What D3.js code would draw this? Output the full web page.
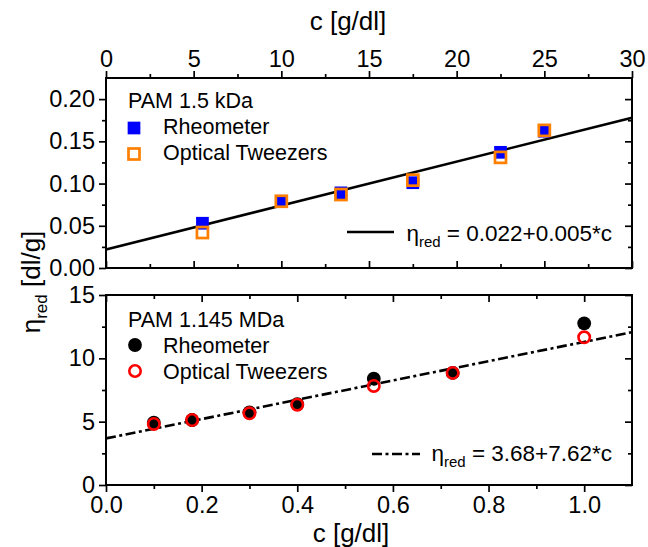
<!DOCTYPE html>
<html><head><meta charset="utf-8">
<script src="https://cdn.jsdelivr.net/npm/d3@7"></script>
<style>
body{margin:0;background:#fff;}
svg text{font-family:Arial,"Liberation Sans",sans-serif;fill:#000;}
</style></head>
<body><svg id="c" width="648" height="547"></svg>
<script>
// ---- data ----
const topC = [5.5, 10, 13.4, 17.5, 22.5, 25];
const topRheo = [0.053, 0.079, 0.089, 0.101, 0.137, 0.162];
const topOT = [0.042, 0.079, 0.087, 0.104, 0.131, 0.163];
const topFit = [0.022, 0.0052]; // intercept, slope
const topFitLabel = "= 0.022+0.005*c";

const botC = [0.1, 0.18, 0.3, 0.4, 0.56, 0.725, 1.0];
const botRheo = [4.92, 5.13, 5.74, 6.39, 8.39, 8.85, 12.76];
const botOT = [4.82, 5.13, 5.66, 6.34, 7.82, 8.85, 11.66];
const botFit = [3.68, 7.62];
const botFitLabel = "= 3.68+7.62*c";

const topXTicks = [0, 5, 10, 15, 20, 25, 30];
const topYTicks = [0, 0.05, 0.10, 0.15, 0.20];
const botXTicks = [0, 0.2, 0.4, 0.6, 0.8, 1.0];
const botYTicks = [0, 5, 10, 15];
const seriesNames = ["Rheometer", "Optical Tweezers"];
const panelTitles = ["PAM 1.5 kDa", "PAM 1.145 MDa"];

// ---- layout ----
const L = 106, R = 632;
const svg = d3.select("#c");
const xT = d3.scaleLinear([0, 30], [L, R]);
const yT = d3.scaleLinear([0, 0.225], [268, 78]);
const xB = d3.scaleLinear([0, 1.1], [L, R]);
const yB = d3.scaleLinear([0, 15], [485, 295]);

const TFS = 23.5, LFS = 21.5, EFS = 22.5, AFS = 26;
const DASH = "10,3.5,3,3.5";
function styleAxis(g, sw) {
  g.select(".domain").remove();
  g.selectAll(".tick line").attr("stroke", "#000").attr("stroke-width", sw);
  g.selectAll(".tick text").attr("font-size", TFS).attr("font-family", "Arial, 'Liberation Sans', sans-serif").attr("fill", "#000");
}
function minors(major, lo, hi) {
  const step = major[1] - major[0];
  const out = [];
  for (let i = 0; i < major.length; i++) {
    const v = major[i] + step / 2;
    if (v > lo && v < hi) out.push(v);
  }
  return out;
}
function addAxis(axisFn, scale, tr, majors, mins, fmt, labels) {
  const gM = svg.append("g").attr("transform", tr)
    .call(axisFn(scale).tickValues(majors).tickSize(7).tickPadding(4)
      .tickFormat(labels ? fmt : () => ""));
  styleAxis(gM, 1.7);
  const gm = svg.append("g").attr("transform", tr)
    .call(axisFn(scale).tickValues(mins).tickSize(4).tickFormat(() => ""));
  styleAxis(gm, 1.7);
  return gM;
}
const f2 = d3.format(".2f"), f1 = d3.format(".1f"), f0 = d3.format("d");

// top panel axes
addAxis(d3.axisTop, xT, `translate(0,78)`, topXTicks, minors(topXTicks, 0, 30), f0, true);
addAxis(d3.axisTop, xT, `translate(0,268)`, topXTicks, minors(topXTicks, 0, 30), f0, false);
addAxis(d3.axisLeft, yT, `translate(${L},0)`, topYTicks, minors(topYTicks, 0, 0.225), f2, true);
addAxis(d3.axisLeft, yT, `translate(${R},0)`, topYTicks, minors(topYTicks, 0, 0.225), f2, false);
// bottom panel axes
addAxis(d3.axisBottom, xB, `translate(0,485)`, botXTicks, minors(botXTicks, 0, 1.1), f1, true);
addAxis(d3.axisBottom, xB, `translate(0,295)`, botXTicks, minors(botXTicks, 0, 1.1), f1, false);
addAxis(d3.axisLeft, yB, `translate(${L},0)`, botYTicks, minors(botYTicks, 0, 15), f0, true);
addAxis(d3.axisLeft, yB, `translate(${R},0)`, botYTicks, minors(botYTicks, 0, 15), f0, false);

// frames
svg.append("rect").attr("x", L).attr("y", 78).attr("width", R - L).attr("height", 190)
  .attr("fill", "none").attr("stroke", "#000").attr("stroke-width", 2);
svg.append("rect").attr("x", L).attr("y", 295).attr("width", R - L).attr("height", 190)
  .attr("fill", "none").attr("stroke", "#000").attr("stroke-width", 2);

// axis titles
svg.append("text").attr("x", 348).attr("y", 30).attr("text-anchor", "middle").attr("font-size", AFS).text("c [g/dl]");
svg.append("text").attr("x", 351).attr("y", 542).attr("text-anchor", "middle").attr("font-size", AFS).text("c [g/dl]");
const yl = svg.append("text").attr("transform", "translate(40,282) rotate(-90)").attr("text-anchor", "middle").attr("font-size", AFS);
yl.append("tspan").text("η");
yl.append("tspan").attr("font-size", 17).attr("dy", 7).text("red");
yl.append("tspan").attr("dy", -7).text(" [dl/g]");

// fit lines
const line = d3.line();
svg.append("path").attr("d", line([[xT(0), yT(topFit[0])], [xT(30), yT(topFit[0] + topFit[1] * 30)]]))
  .attr("stroke", "#000").attr("stroke-width", 2.6).attr("fill", "none");
svg.append("path").attr("d", line([[xB(0), yB(botFit[0])], [xB(1.1), yB(botFit[0] + botFit[1] * 1.1)]]))
  .attr("stroke", "#000").attr("stroke-width", 2.6).attr("fill", "none").attr("stroke-dasharray", DASH);

// markers top
const sq = 12.7, osq = 11;
svg.append("g").selectAll("rect").data(topC.map((c, i) => [c, topRheo[i]])).join("rect")
  .attr("x", d => xT(d[0]) - sq / 2).attr("y", d => yT(d[1]) - sq / 2)
  .attr("width", sq).attr("height", sq).attr("fill", "#0000ff");
svg.append("g").selectAll("rect").data(topC.map((c, i) => [c, topOT[i]])).join("rect")
  .attr("x", d => xT(d[0]) - osq / 2).attr("y", d => yT(d[1]) - osq / 2)
  .attr("width", osq).attr("height", osq).attr("fill", "none").attr("stroke", "#ff8000").attr("stroke-width", 2.7);
// markers bottom
svg.append("g").selectAll("circle").data(botC.map((c, i) => [c, botRheo[i]])).join("circle")
  .attr("cx", d => xB(d[0])).attr("cy", d => yB(d[1])).attr("r", 6.9).attr("fill", "#000");
svg.append("g").selectAll("circle").data(botC.map((c, i) => [c, botOT[i]])).join("circle")
  .attr("cx", d => xB(d[0])).attr("cy", d => yB(d[1])).attr("r", 5.7)
  .attr("fill", "none").attr("stroke", "#ff0000").attr("stroke-width", 2.6);

// legends top
svg.append("text").attr("x", 128).attr("y", 108).attr("font-size", LFS).text(panelTitles[0]);
svg.append("rect").attr("x", 134 - sq / 2).attr("y", 128 - sq / 2).attr("width", sq).attr("height", sq).attr("fill", "#0000ff");
svg.append("text").attr("x", 163).attr("y", 134).attr("font-size", LFS).text(seriesNames[0]);
svg.append("rect").attr("x", 134 - osq / 2).attr("y", 154 - osq / 2).attr("width", osq).attr("height", osq)
  .attr("fill", "none").attr("stroke", "#ff8000").attr("stroke-width", 2.7);
svg.append("text").attr("x", 163).attr("y", 160).attr("font-size", LFS).text(seriesNames[1]);
// legends bottom
svg.append("text").attr("x", 128).attr("y", 327).attr("font-size", LFS).text(panelTitles[1]);
svg.append("circle").attr("cx", 135).attr("cy", 345).attr("r", 6.9).attr("fill", "#000");
svg.append("text").attr("x", 163).attr("y", 353).attr("font-size", LFS).text(seriesNames[0]);
svg.append("circle").attr("cx", 135).attr("cy", 371).attr("r", 5.7).attr("fill", "none").attr("stroke", "#ff0000").attr("stroke-width", 2.6);
svg.append("text").attr("x", 163).attr("y", 379).attr("font-size", LFS).text(seriesNames[1]);

// equation legends
function eq(x1, x2, ly, ty, label, dash) {
  const p = svg.append("line").attr("x1", x1).attr("x2", x2).attr("y1", ly).attr("y2", ly)
    .attr("stroke", "#000").attr("stroke-width", 2.6);
  if (dash) p.attr("stroke-dasharray", dash);
  const t = svg.append("text").attr("x", 612).attr("y", ty).attr("text-anchor", "end").attr("font-size", EFS);
  t.append("tspan").text("η");
  t.append("tspan").attr("font-size", 15).attr("dy", 6).text("red");
  t.append("tspan").attr("dy", -6).text(" " + label);
}
eq(347, 394, 232, 241, topFitLabel, null);
eq(372, 420, 454, 461, botFitLabel, DASH);
</script></body></html>
